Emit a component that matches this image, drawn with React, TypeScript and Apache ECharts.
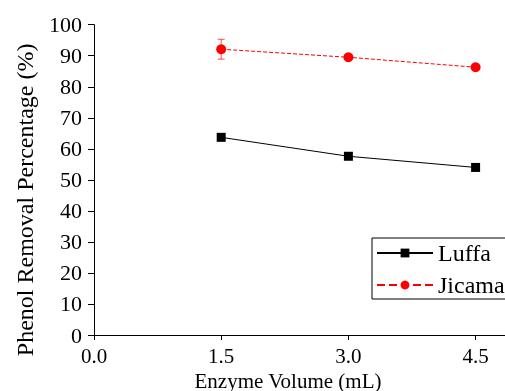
import React, { useEffect, useRef } from "react";
import * as echarts from "echarts";

const xValues = [1.5, 3.0, 4.5];
const luffa = [63.7, 57.6, 54.0];
const luffaErr = [0.4, 0.4, 0.9];
const jicama = [92.1, 89.5, 86.3];
const jicamaErr = [3.2, 0.4, 0.4];
const seriesNames = ["Luffa", "Jicama"];
const xTitle = "Enzyme Volume (mL)";
const yTitle = "Phenol Removal Percentage (%)";

const FONT = "serif";

function errorSeries(name: string, ys: number[], errs: number[], color: string) {
  return {
    type: "custom",
    name: name + "-err",
    silent: true,
    z: 1,
    data: xValues.map((x, i) => [x, ys[i] - errs[i], ys[i] + errs[i]]),
    renderItem: (params: any, api: any) => {
      const x = api.value(0);
      const lo = api.coord([x, api.value(1)]);
      const hi = api.coord([x, api.value(2)]);
      const hw = 3.5;
      const style = { stroke: color, lineWidth: 1, opacity: 0.7 };
      return {
        type: "group",
        children: [
          { type: "line", shape: { x1: lo[0], y1: lo[1], x2: hi[0], y2: hi[1] }, style },
          { type: "line", shape: { x1: lo[0] - hw, y1: lo[1], x2: lo[0] + hw, y2: lo[1] }, style },
          { type: "line", shape: { x1: hi[0] - hw, y1: hi[1], x2: hi[0] + hw, y2: hi[1] }, style },
        ],
      };
    },
  };
}

export default function App() {
  const ref = useRef<HTMLDivElement>(null);
  useEffect(() => {
    if (!ref.current) return;
    const chart = echarts.init(ref.current, undefined, { renderer: "svg" });
    chart.setOption({
      animation: false,
      grid: { left: 94, top: 24.7, bottom: 56, right: -13, outerBoundsMode: "none" },
      legend: {
        data: seriesNames,
        orient: "vertical",
        left: 372,
        top: 238,
        padding: [3, 12, 2, 4],
        itemGap: 8,
        itemWidth: 56,
        itemHeight: 11,
        borderColor: "#000",
        borderWidth: 1,
        backgroundColor: "#fff",
        textStyle: { fontFamily: FONT, fontSize: 24, color: "#000" },
      },
      xAxis: {
        type: "value",
        min: 0,
        max: 5,
        interval: 1.5,
        name: xTitle,
        nameLocation: "middle",
        nameGap: 30,
        nameTextStyle: { fontFamily: FONT, fontSize: 21, color: "#000", padding: [0, 36, 0, 0] },
        axisLine: { show: true, lineStyle: { color: "#000", width: 1 } },
        axisTick: { show: true, inside: false, length: 5, lineStyle: { color: "#000" } },
        axisLabel: {
          fontFamily: FONT,
          fontSize: 21,
          color: "#000",
          margin: 10,
          showMaxLabel: false,
          formatter: (v: number) => v.toFixed(1),
        },
        splitLine: { show: false },
      },
      yAxis: {
        type: "value",
        min: 0,
        max: 100,
        interval: 10,
        name: yTitle,
        nameLocation: "middle",
        nameGap: 57,
        nameTextStyle: { fontFamily: FONT, fontSize: 24, color: "#000", padding: [0, 40, 0, 0] },
        axisLine: { show: true, lineStyle: { color: "#000", width: 1 } },
        axisTick: { show: true, inside: false, length: 6, lineStyle: { color: "#000" } },
        axisLabel: { fontFamily: FONT, fontSize: 22, color: "#000", margin: 12 },
        splitLine: { show: false },
      },
      series: [
        {
          name: seriesNames[0],
          type: "line",
          data: xValues.map((x, i) => [x, luffa[i]]),
          symbol: "rect",
          symbolSize: 9,
          itemStyle: { color: "#000" },
          lineStyle: { color: "#000", width: 1, type: "solid" },
          z: 3,
        },
        {
          name: seriesNames[1],
          type: "line",
          data: xValues.map((x, i) => [x, jicama[i]]),
          symbol: "circle",
          symbolSize: 10,
          itemStyle: { color: "#ff0000" },
          lineStyle: { color: "#ff0000", width: 1, type: "dashed" },
          z: 3,
        },
        errorSeries(seriesNames[0], luffa, luffaErr, "#000"),
        errorSeries(seriesNames[1], jicama, jicamaErr, "#ff0000"),
      ],
    });
    return () => chart.dispose();
  }, []);
  return (
    <div
      ref={ref}
      style={{ position: "fixed", left: 0, top: 0, width: 505, height: 391, fontFamily: "serif" }}
    />
  );
}
